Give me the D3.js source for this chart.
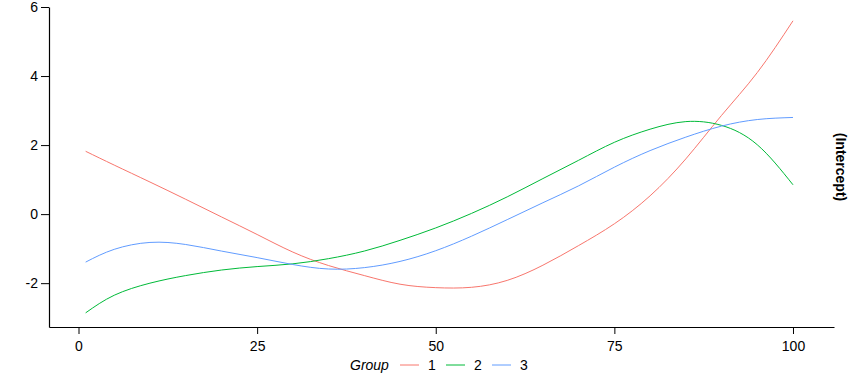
<!DOCTYPE html>
<html>
<head>
<meta charset="utf-8">
<script src="https://cdn.jsdelivr.net/npm/d3@7"></script>
<style>
  body { margin: 0; background: #fff; }
  text { font-family: "Liberation Sans", Arial, sans-serif; }
</style>
</head>
<body>
<div id="vis"></div>
<script>
var xs     = [1, 5, 10, 15, 20, 25, 30, 35, 40, 45, 50, 55, 60, 65, 70, 75, 80, 85, 90, 95, 100];
var group1 = [1.82, 1.42, 0.93, 0.43, -0.08, -0.59, -1.10, -1.49, -1.78, -2.03, -2.13, -2.12, -1.92, -1.48, -0.91, -0.28, 0.53, 1.60, 2.86, 4.10, 5.60];
var group2 = [-2.86, -2.35, -2.00, -1.78, -1.62, -1.52, -1.44, -1.29, -1.07, -0.76, -0.40, 0.02, 0.50, 1.03, 1.56, 2.08, 2.46, 2.68, 2.57, 2.01, 0.85];
var group3 = [-1.39, -1.02, -0.82, -0.88, -1.07, -1.26, -1.46, -1.59, -1.55, -1.37, -1.06, -0.64, -0.16, 0.33, 0.82, 1.36, 1.84, 2.23, 2.55, 2.74, 2.80];

var groups = ["1", "2", "3"];
var colors = ["#F8766D", "#00BA38", "#619CFF"];
var xTicks = [0, 25, 50, 75, 100];
var yTicks = [-2, 0, 2, 4, 6];

var width = 864, height = 384;

var svg = d3.select("#vis")
    .append("svg")
    .attr("width", width)
    .attr("height", height);

// scales: axis lines run the full panel, ticks sit inside
var x = d3.scaleLinear()
    .domain([-4.13, 105.74])
    .range([49, 834]);

var y = d3.scaleLinear()
    .domain([-3.27, 6])
    .range([327, 7]);

var line = d3.line()
    .x(function(d) { return x(d.x); })
    .y(function(d) { return y(d.y); })
    .curve(d3.curveNatural);

var series = [group1, group2, group3].map(function(vals, i) {
  return { key: groups[i], color: colors[i], values: xs.map(function(v, j) { return {x: v, y: vals[j]}; }) };
});

svg.append("g")
  .selectAll("path")
  .data(series)
  .enter().append("path")
    .attr("fill", "none")
    .attr("stroke", function(d) { return d.color; })
    .attr("stroke-width", 1)
    .attr("d", function(d) { return line(d.values); });

// plain hyphen for negatives, like the original
var fmt = function(d) { return String(d); };

var xAxis = svg.append("g")
    .attr("transform", "translate(0,327)")
    .call(d3.axisBottom(x).tickValues(xTicks).tickFormat(fmt).tickSize(7).tickSizeOuter(0).tickPadding(7));

var yAxis = svg.append("g")
    .attr("transform", "translate(49,0)")
    .call(d3.axisLeft(y).tickValues(yTicks).tickFormat(fmt).tickSize(8).tickSizeOuter(0).tickPadding(3));

[xAxis, yAxis].forEach(function(a) {
  a.selectAll(".domain").attr("stroke", "#000").attr("stroke-width", 1.2);
  a.selectAll(".tick line").attr("stroke", "#000");
  a.selectAll(".tick text").attr("fill", "#000").style("font-size", "14px")
    .style("font-family", "'Liberation Sans', Arial, sans-serif");
});

// right-hand facet label
svg.append("text")
    .attr("transform", "translate(836,167) rotate(90)")
    .attr("text-anchor", "middle")
    .style("font-size", "14px")
    .style("font-weight", "bold")
    .text("(Intercept)");

// legend
var legend = svg.append("g").attr("transform", "translate(0,370)");

legend.append("text")
    .attr("x", 350)
    .style("font-size", "14px")
    .style("font-style", "italic")
    .text("Group");

var items = legend.selectAll("g.item")
    .data(series)
  .enter().append("g")
    .attr("class", "item")
    .attr("transform", function(d, i) { return "translate(" + (400 + i * 46) + ",0)"; });

items.append("line")
    .attr("x1", 0).attr("x2", 19)
    .attr("y1", -5).attr("y2", -5)
    .attr("stroke", function(d) { return d.color; })
    .attr("stroke-width", 1);

items.append("text")
    .attr("x", 28)
    .style("font-size", "14px")
    .text(function(d) { return d.key; });
</script>
</body>
</html>
